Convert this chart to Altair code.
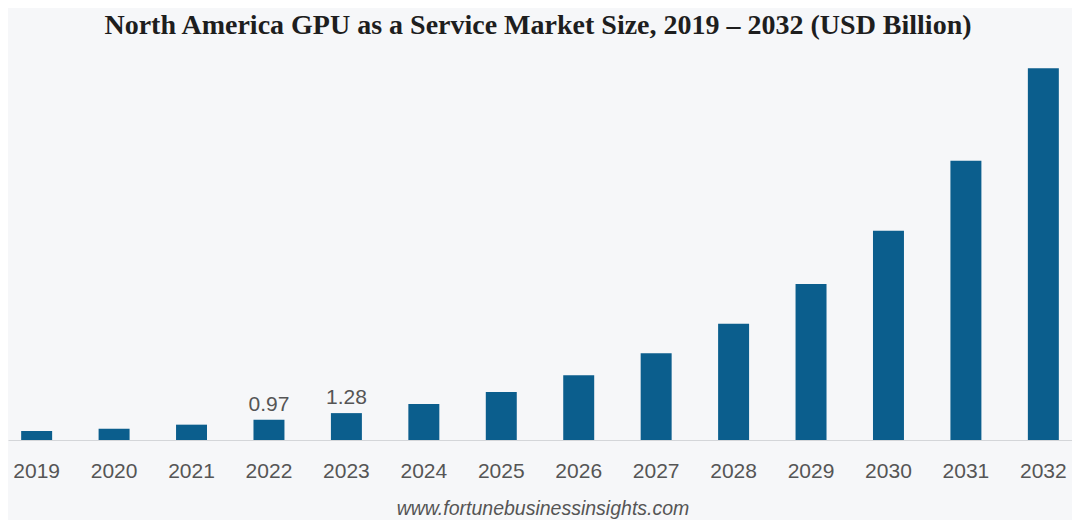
import altair as alt
import pandas as pd

years = ["2019", "2020", "2021", "2022", "2023", "2024", "2025",
         "2026", "2027", "2028", "2029", "2030", "2031", "2032"]
values = [0.43, 0.54, 0.73, 0.97, 1.28, 1.71, 2.28,
          3.08, 4.13, 5.54, 7.43, 9.97, 13.3, 17.7]
labels = ["", "", "", "0.97", "1.28", "", "", "", "", "", "", "", "", ""]

title_text = "North America GPU as a Service Market Size, 2019 \u2013 2032 (USD Billion)"
source_text = "www.fortunebusinessinsights.com"

df = pd.DataFrame({"year": years, "value": values, "label": labels})

W, H = 1064, 378
BAR = "#0b5e8d"
GRAY = "#555555"

x = alt.X("year:N", sort=years, title=None,
          scale=alt.Scale(paddingInner=0.6, paddingOuter=0.17),
          axis=alt.Axis(labelAngle=0, labelFont="Liberation Sans", labelFontSize=21,
                        labelColor=GRAY, labelPadding=20, ticks=False,
                        domain=True, domainColor="#d4d6d9", domainWidth=1.2, grid=False))
y = alt.Y("value:Q", title=None, scale=alt.Scale(domain=[0, 18], nice=False),
          axis=None)

base = alt.Chart(df)

bars = base.mark_bar(color=BAR).encode(x=x, y=y)

text = base.mark_text(baseline="bottom", dy=-5, font="Liberation Sans",
                      fontSize=21, color=GRAY).encode(x=x, y=y, text="label:N")

title = alt.Chart(pd.DataFrame({"t": [title_text]})).mark_text(
    font="Liberation Serif", fontWeight="bold", fontSize=28, color="#1e1e1e",
    baseline="middle", align="center"
).encode(x=alt.value(530), y=alt.value(-36), text="t:N")

source = alt.Chart(pd.DataFrame({"t": [source_text]})).mark_text(
    font="Liberation Sans", fontStyle="italic", fontSize=19.5, color=GRAY,
    baseline="middle", align="center"
).encode(x=alt.value(535), y=alt.value(H + 69), text="t:N")

chart = alt.layer(bars, text, title, source).properties(
    width=W, height=H,
    autosize=alt.AutoSizeParams(type="none"),
    padding={"left": 0, "right": 0, "top": 54, "bottom": 80},
    background="#f6f7f9",
).configure_view(stroke=None)

chart.save("out.html", embed_options={"renderer": "svg", "actions": False})
